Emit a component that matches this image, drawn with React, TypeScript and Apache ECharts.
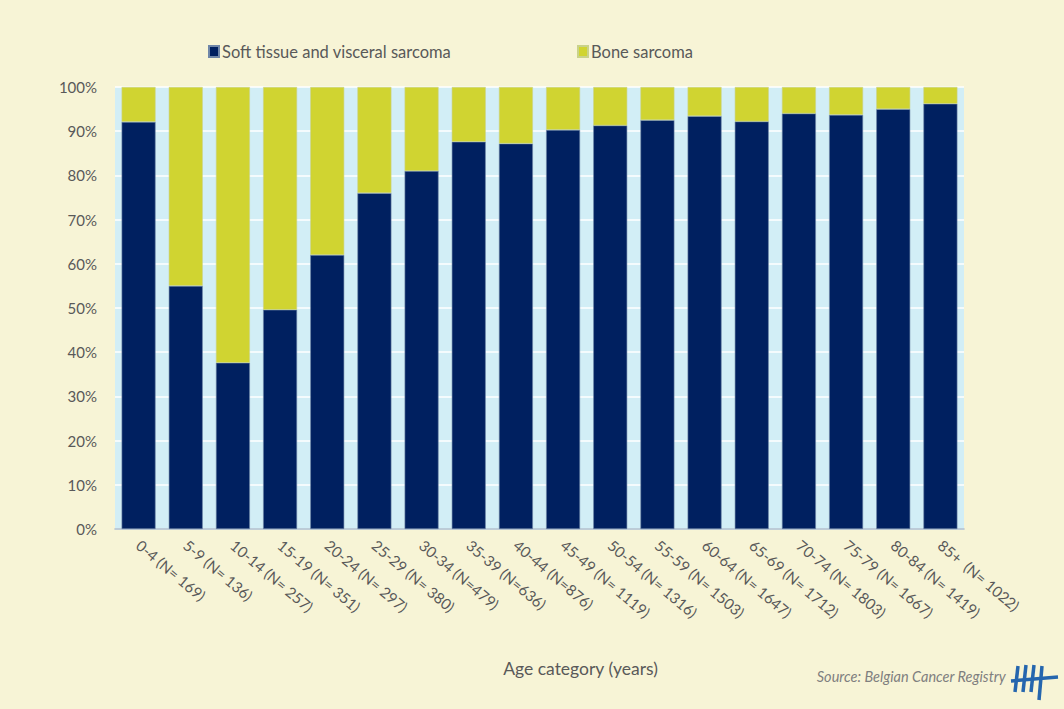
import React, { useEffect, useRef } from "react";
import * as echarts from "echarts";

const categories = [
  "0-4 (N= 169)", "5-9 (N= 136)", "10-14 (N= 257)", "15-19 (N= 351)", "20-24 (N= 297)",
  "25-29 (N= 380)", "30-34 (N=479)", "35-39 (N=636)", "40-44 (N=876)", "45-49 (N= 1119)",
  "50-54 (N= 1316)", "55-59 (N= 1503)", "60-64 (N= 1647)", "65-69 (N= 1712)", "70-74 (N= 1803)",
  "75-79 (N= 1667)", "80-84 (N= 1419)", "85+  (N= 1022)",
];
const softTissue = [92.1, 55.0, 37.6, 49.6, 62.0, 76.0, 81.0, 87.6, 87.2, 90.3, 91.3, 92.5, 93.4, 92.2, 94.0, 93.7, 95.0, 96.2];
const bone = [7.9, 45.0, 62.4, 50.4, 38.0, 24.0, 19.0, 12.4, 12.8, 9.7, 8.7, 7.5, 6.6, 7.8, 6.0, 6.3, 5.0, 3.8];
const yTicks = [0, 10, 20, 30, 40, 50, 60, 70, 80, 90, 100];

const NAVY = "#002060";
const LIME = "#D0D431";
const TEXT = "#595959";
const FONT = "Lato";
const LOGO = "#2566AE";

export default function App() {
  const ref = useRef<HTMLDivElement>(null);
  useEffect(() => {
    const chart = echarts.init(ref.current!, null, { renderer: "svg" });
    chart.setOption({
      animation: false,
      backgroundColor: "#F7F4D6",
      textStyle: { fontFamily: FONT },
      legend: [
        {
          data: ["Soft tissue and visceral sarcoma"],
          left: 203, top: 38, itemWidth: 10, itemHeight: 11, itemGap: 4,
          icon: "rect",
          textStyle: { color: TEXT, fontSize: 16.5, fontFamily: FONT, padding: [0, 0, 0, -2] },
        },
        {
          data: ["Bone sarcoma"],
          left: 572, top: 38, itemWidth: 10, itemHeight: 11, itemGap: 4,
          icon: "rect",
          textStyle: { color: TEXT, fontSize: 16.5, fontFamily: FONT, padding: [0, 0, 0, -2] },
        },
      ],
      grid: { left: 115, right: 100, top: 87, bottom: 180, show: true, backgroundColor: "#D2EEF6", borderWidth: 0 },
      xAxis: {
        type: "category",
        data: categories,
        name: "Age category (years)",
        nameLocation: "middle",
        nameGap: 130,
        nameTextStyle: { color: TEXT, fontSize: 17.5, fontFamily: FONT, padding: [0, 0, 0, 82] },
        axisLine: { lineStyle: { color: "#A9BCCB", width: 1.5 } },
        axisTick: { show: false },
        axisLabel: { rotate: -40, color: TEXT, fontSize: 15, fontFamily: FONT, margin: 14, interval: 0 },
      },
      yAxis: {
        type: "value",
        min: yTicks[0],
        max: yTicks[yTicks.length - 1],
        interval: 10,
        axisLine: { show: false },
        axisTick: { show: false },
        splitLine: { lineStyle: { color: "#FFFFFF", width: 1.5 } },
        axisLabel: { formatter: "{value}%", color: TEXT, fontSize: 15, fontFamily: FONT, margin: 18 },
      },
      series: [
        {
          name: "Soft tissue and visceral sarcoma",
          type: "bar",
          stack: "total",
          data: softTissue,
          barCategoryGap: "28%",
          itemStyle: { color: NAVY, borderColor: "#6F86A8", borderWidth: 0.6 },
        },
        {
          name: "Bone sarcoma",
          type: "bar",
          stack: "total",
          data: bone,
          itemStyle: { color: LIME, borderColor: "#C9D28A", borderWidth: 0.6 },
        },
      ],
      graphic: [
        {
          type: "text",
          right: 58,
          top: 669,
          style: { text: "Source: Belgian Cancer Registry", fill: "#7F7F7F", fontSize: 14.5, fontStyle: "italic", fontFamily: FONT },
        },
        { type: "line", shape: { x1: 1011, y1: 681, x2: 1058, y2: 677 }, style: { stroke: LOGO, lineWidth: 3.5 } },
        { type: "line", shape: { x1: 1018, y1: 666, x2: 1015, y2: 692 }, style: { stroke: LOGO, lineWidth: 3.5 } },
        { type: "line", shape: { x1: 1026, y1: 665, x2: 1023, y2: 692 }, style: { stroke: LOGO, lineWidth: 3.5 } },
        { type: "line", shape: { x1: 1034, y1: 665, x2: 1031, y2: 692 }, style: { stroke: LOGO, lineWidth: 3.5 } },
        { type: "line", shape: { x1: 1042, y1: 666, x2: 1039, y2: 700 }, style: { stroke: LOGO, lineWidth: 3.5 } },
      ],
    });
    return () => chart.dispose();
  }, []);
  return <div ref={ref} style={{ position: "fixed", left: 0, top: 0, width: 1064, height: 709 }} />;
}
